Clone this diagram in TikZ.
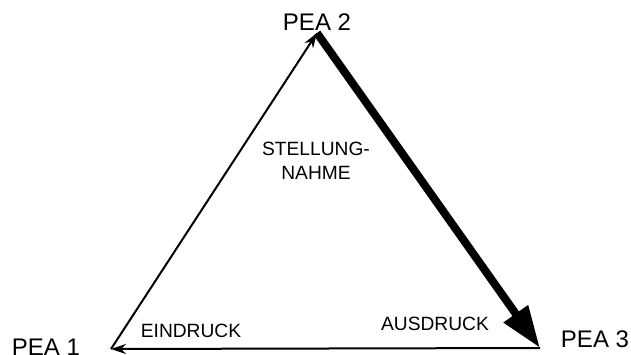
\documentclass[tikz,border=0pt]{standalone}
\usepackage{fontspec}
\setmainfont{Liberation Sans}
\usetikzlibrary{arrows.meta}

\begin{document}
\begin{tikzpicture}[x=0.5pt, y=-0.5pt,
  pea/.style={font=\fontsize{12}{14}\selectfont},
  act/.style={font=\fontsize{9.6}{12}\selectfont, align=center},
  thin/.style={line width=1pt, -{Stealth[length=7.5pt,width=5pt]}},
  heavy/.style={line width=4pt, -{Triangle[length=21pt,width=14pt]}}]
\useasboundingbox (0,0) rectangle (631,354);

\coordinate (p1) at (111,349);
\coordinate (p2) at (317,33);
\coordinate (p3) at (540,348);

\node [pea] (pea1) at (46,347) {PEA 1};
\node [pea] (pea2) at (317,22) {PEA 2};
\node [pea] (pea3) at (595,339) {PEA 3};

\node [act] (stellung) at (316,161) {STELLUNG-\\NAHME};
\node [act] (eindruck) at (191,331) {EINDRUCK};
\node [act] (ausdruck) at (435,324) {AUSDRUCK};

\draw [thin] (p1) -- (p2);
\draw [heavy] (p2) -- (p3);
\draw [thin] (p3) -- (p1);

\end{tikzpicture}
\end{document}
